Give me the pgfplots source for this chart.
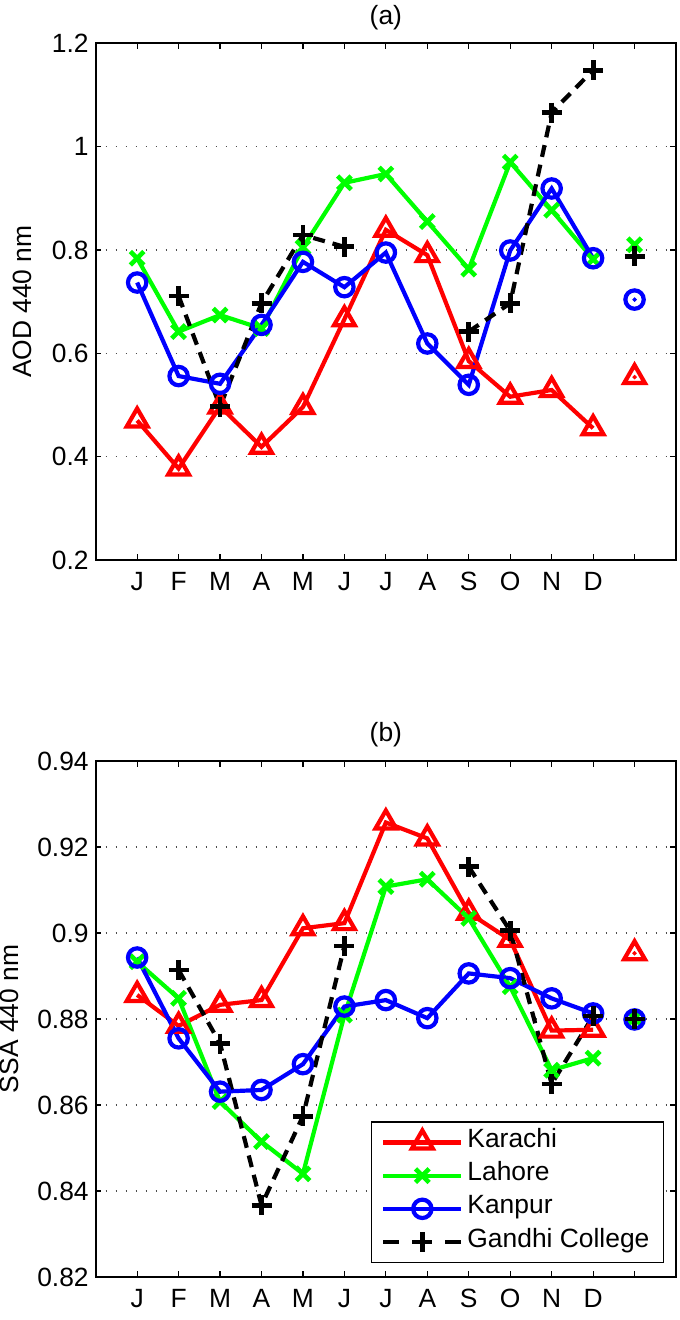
\documentclass[border=0pt]{standalone}
\usepackage{fontspec}
\setmainfont{Liberation Sans}
\usepackage{pgfplots}
\pgfplotsset{compat=1.18}

\newcommand{\fs}{\fontsize{13.2}{15.5}\selectfont}

\pgfplotsset{
  mystyle/.style={
    scale only axis, width=290.15pt,
    xmin=0, xmax=14, xtick={1,...,13},
    xticklabels={J,F,M,A,M,J,J,A,S,O,N,D,{}},
    tick align=inside,
    major tick length=2.8pt,
    every tick/.style={black, line width=0.6pt},
    axis line style={line width=0.8pt},
    ymajorgrids,
    major grid style={black!70, line width=0.6pt, dash pattern=on 0.6pt off 4.4pt},
    tick label style={font=\fs},
    label style={font=\fs},
    title style={font=\fs, at={(axis description cs:0.5,1)}, anchor=center, yshift=7pt},
    xticklabel style={yshift=-2.6pt},
    /pgf/number format/assume math mode=true,
    unbounded coords=jump,
    legend image code/.code={\draw[mark repeat=2,mark phase=2,##1] plot coordinates {(0pt,0pt) (19.5pt,0pt) (39pt,0pt)};},
  },
  kar/.style={red, line width=2.1pt, mark=triangle, mark size=6pt, mark options={solid}},
  lah/.style={green, line width=2.1pt, mark=x, mark size=4.8pt, mark options={solid, line width=2.3pt}},
  kan/.style={blue, line width=2.1pt, mark=o, mark size=4.6pt, mark options={solid}},
  gan/.style={black, line width=2.1pt, dash pattern=on 6pt off 4pt, mark=+, mark size=5pt, mark options={solid, line width=2.4pt}},
  dot/.style={only marks, mark=*, mark size=0.9pt, forget plot},
}

\begin{document}
\begin{tikzpicture}
\path[use as bounding box] (-47.85pt,21.65pt) rectangle (291.65pt,-638.35pt);

% ---------------- (a) ----------------
\begin{axis}[mystyle, at={(0pt,0pt)}, anchor=north west, height=258.35pt,
  ymin=0.2, ymax=1.2, ytick={0.2,0.4,0.6,0.8,1,1.2},
  title={(a)}, ylabel={AOD 440 nm},
  ylabel style={at={(axis description cs:-0.1258,0.5)}, anchor=center}]
\addplot[kar] coordinates {(1,0.470) (2,0.377) (3,0.497) (4,0.419) (5,0.496) (6,0.666) (7,0.839) (8,0.790) (9,0.585) (10,0.516) (11,0.529) (12,0.455)};
\addplot[lah] coordinates {(1,0.784) (2,0.642) (3,0.674) (4,0.648) (5,0.805) (6,0.930) (7,0.947) (8,0.855) (9,0.763) (10,0.970) (11,0.877) (12,0.782)};
\addplot[kan] coordinates {(1,0.737) (2,0.556) (3,0.541) (4,0.655) (5,0.777) (6,0.728) (7,0.795) (8,0.619) (9,0.539) (10,0.799) (11,0.919) (12,0.784)};
\addplot[gan] coordinates {(1,nan) (2,0.711) (3,0.497) (4,0.697) (5,0.829) (6,0.806) (7,nan) (8,nan) (9,0.642) (10,0.697) (11,1.066) (12,1.148)};
\addplot[kar, only marks, forget plot] coordinates {(13,0.554)};
\addplot[red, dot] coordinates {(13,0.554)};
\addplot[lah, only marks, forget plot] coordinates {(13,0.810)};
\addplot[kan, only marks, forget plot] coordinates {(13,0.704)};
\addplot[blue, dot] coordinates {(13,0.704)};
\addplot[gan, only marks, forget plot] coordinates {(13,0.788)};
\end{axis}

% ---------------- (b) ----------------
\begin{axis}[mystyle, at={(0pt,-358.85pt)}, anchor=north west, height=258pt,
  ymin=0.82, ymax=0.94, ytick={0.82,0.84,0.86,0.88,0.9,0.92,0.94},
  yticklabels={0.82,0.84,0.86,0.88,0.9,0.92,0.94},
  title={(b)}, ylabel={SSA 440 nm},
  ylabel style={at={(axis description cs:-0.1482,0.5)}, anchor=center},
  legend cell align=left,
  legend style={at={(0.9794,0.0271)}, anchor=south east, draw=black, line width=0.6pt,
    font=\fs, inner xsep=5pt, inner ysep=3.5pt, row sep=3.2pt,
    nodes={inner sep=2pt, text height=0.72em, text depth=0.22em}}]
\addplot[kar] coordinates {(1,0.8856) (2,0.8784) (3,0.8833) (4,0.8844) (5,0.9011) (6,0.9023) (7,0.9257) (8,0.9220) (9,0.9047) (10,0.8984) (11,0.8773) (12,0.8775)};
\addlegendentry{Karachi}
\addplot[lah] coordinates {(1,0.8933) (2,0.8848) (3,0.8608) (4,0.8515) (5,0.8440) (6,0.8809) (7,0.9108) (8,0.9125) (9,0.9034) (10,0.8875) (11,0.8681) (12,0.8709)};
\addlegendentry{Lahore}
\addplot[kan] coordinates {(1,0.8943) (2,0.8755) (3,0.8631) (4,0.8635) (5,0.8695) (6,0.8829) (7,0.8844) (8,0.8802) (9,0.8906) (10,0.8895) (11,0.8848) (12,0.8813)};
\addlegendentry{Kanpur}
\addplot[gan, legend image post style={dash pattern=on 8pt off 23pt}] coordinates {(1,nan) (2,0.8914) (3,0.8743) (4,0.8367) (5,0.8574) (6,0.8970) (7,nan) (8,nan) (9,0.9154) (10,0.9005) (11,0.8649) (12,0.8807)};
\addlegendentry{Gandhi College}
\addplot[kar, only marks, forget plot] coordinates {(13,0.8953)};
\addplot[red, dot] coordinates {(13,0.8953)};
\addplot[lah, only marks, forget plot] coordinates {(13,0.8802)};
\addplot[kan, only marks, forget plot] coordinates {(13,0.8799)};
\addplot[gan, only marks, forget plot] coordinates {(13,0.8800)};
\end{axis}
\end{tikzpicture}
\end{document}
